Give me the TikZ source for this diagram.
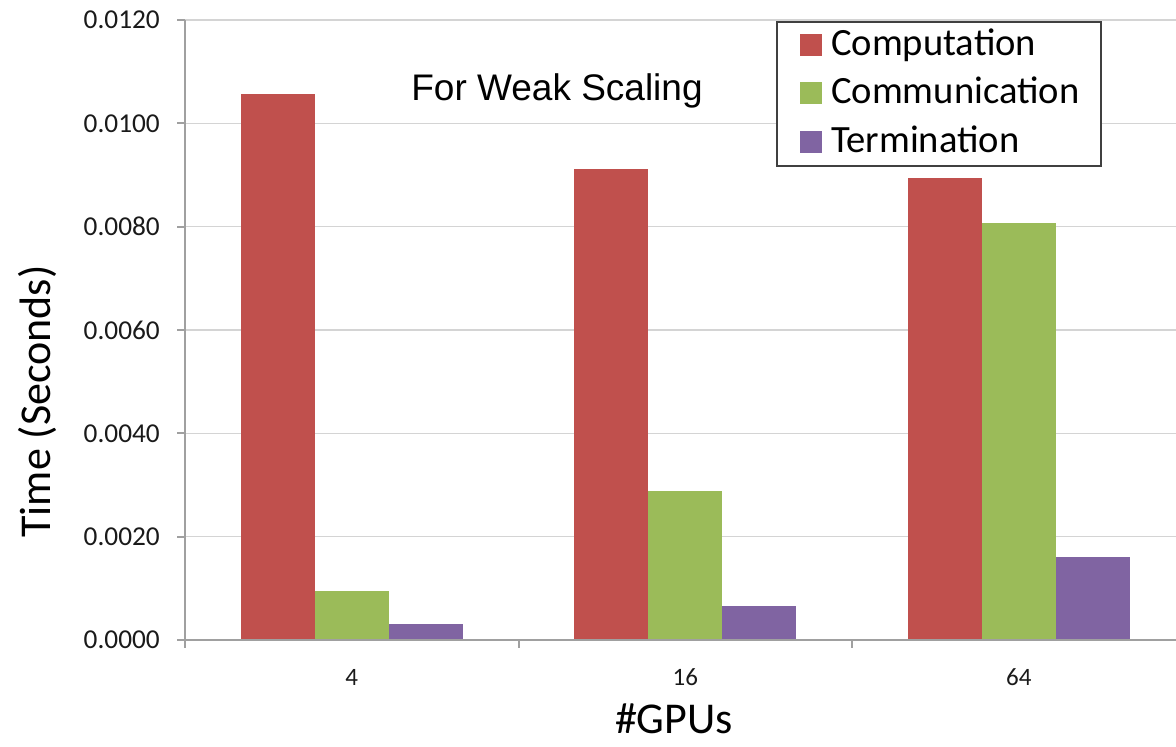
\documentclass[tikz,border=0pt]{standalone}
\usepackage{fontspec}
\setmainfont{Carlito}
\newfontfamily\titlefont{Liberation Sans}

\definecolor{compred}{HTML}{C0504D}
\definecolor{commgreen}{HTML}{9BBB59}
\definecolor{termpurple}{HTML}{8064A2}
\definecolor{gridgray}{HTML}{D4D4D4}
\definecolor{axisgray}{HTML}{A0A0A0}
\definecolor{legendframe}{HTML}{404040}
\definecolor{labeltext}{HTML}{1A1A1A}

\begin{document}
\begin{tikzpicture}[x=1pt,y=-1pt,
  gridline/.style={draw=gridgray,line width=1.5pt},
  axisline/.style={draw=axisgray,line width=2pt},
  ticklabel/.style={inner sep=0pt,text=labeltext,font=\fontsize{27.3}{27.3}\selectfont},
  catlabel/.style={inner sep=0pt,text=labeltext,font=\fontsize{25}{25}\selectfont},
  axistitle/.style={inner sep=0pt,text=black,font=\fontsize{44}{44}\selectfont},
  legendtext/.style={inner sep=0pt,text=black,font=\fontsize{38.6}{38.6}\selectfont,anchor=base west},
  barcomp/.style={fill=compred},
  barcomm/.style={fill=commgreen},
  barterm/.style={fill=termpurple}]
\useasboundingbox (0,0) rectangle (1176,747);

% horizontal grid lines, every 0.0020 s
\foreach \y in {20,123.33,226.67,330,433.33,536.67}
  \draw[gridline] (185,\y) -- (1176,\y);

% bars: left edge of group, tops of computation / communication / termination
\foreach \g/\r/\c/\p in {0/94/591/624, 1/169/491/606, 2/178/223/557}{
  \pgfmathsetmacro\xl{240.75+333.5*\g}
  \fill[barcomp] (\xl,640) rectangle (\xl+74,\r);
  \fill[barcomm] (\xl+74,640) rectangle (\xl+148,\c);
  \fill[barterm] (\xl+148,640) rectangle (\xl+222,\p);
}

% axes and tick marks
\draw[axisline] (185,20) -- (185,640);
\draw[axisline] (177,640) -- (1176,640);
\foreach \y in {20,123.33,226.67,330,433.33,536.67}
  \draw[axisline] (177,\y) -- (185,\y);
\foreach \x in {185,518.5,852}
  \draw[axisline] (\x,640) -- (\x,648);

% value labels
\node[ticklabel,anchor=east] (y0) at (160,640)    {0.0000};
\node[ticklabel,anchor=east] (y1) at (160,536.67) {0.0020};
\node[ticklabel,anchor=east] (y2) at (160,433.33) {0.0040};
\node[ticklabel,anchor=east] (y3) at (160,330)    {0.0060};
\node[ticklabel,anchor=east] (y4) at (160,226.67) {0.0080};
\node[ticklabel,anchor=east] (y5) at (160,123.33) {0.0100};
\node[ticklabel,anchor=east] (y6) at (160,20)     {0.0120};

% category labels
\node[catlabel] (c4)  at (351.75,677) {4};
\node[catlabel] (c16) at (685.25,677) {16};
\node[catlabel] (c64) at (1018.75,677) {64};

% axis titles
\node[axistitle,anchor=base] (xtitle) at (674,733) {\#GPUs};
\node[axistitle,anchor=base,rotate=90] (ytitle) at (50,401.5) {Time (Seconds)};

% chart title
\node[inner sep=0pt,anchor=base,font=\titlefont\fontsize{37}{37}\selectfont] (title) at (557,100.7) {For Weak Scaling};

% legend
\node[draw=legendframe,line width=1.5pt,fill=white,minimum width=324pt,minimum height=144pt,anchor=north west,inner sep=0pt] (legend) at (776,21) {};
\fill[barcomp] (800,33.5) rectangle (822,55.5);
\fill[barcomm] (800,81.5) rectangle (822,103.5);
\fill[barterm] (800,130.5) rectangle (822,152.5);
\node[legendtext] (lcomp) at (831,55)    {Computation};
\node[legendtext] (lcomm) at (831,103.5) {Communication};
\node[legendtext] (lterm) at (831,152)   {Termination};
\end{tikzpicture}
\end{document}
